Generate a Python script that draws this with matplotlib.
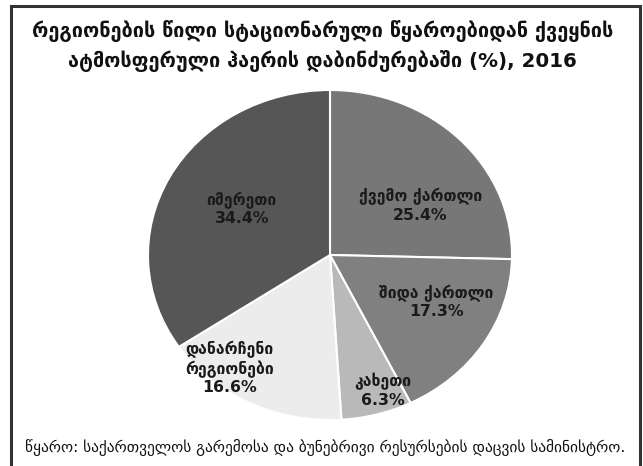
import numpy as np
import matplotlib.pyplot as plt
from matplotlib.patches import Rectangle

regions = ["ქვემო ქართლი", "შიდა ქართლი", "კახეთი", "დანარჩენი\nრეგიონები", "იმერეთი"]
shares = [25.4, 17.3, 6.3, 16.6, 34.4]
title = ("რეგიონების წილი სტაციონარული წყაროებიდან ქვეყნის\n"
         "ატმოსფერული ჰაერის დაბინძურებაში (%), 2016")
source = "წყარო: საქართველოს გარემოსა და ბუნებრივი რესურსების დაცვის სამინისტრო."

colors = ["#777777", "#808080", "#b9b9b9", "#ececec", "#565656"]
# label placement: radius fraction and angle shift from wedge middle
lab_r = [0.58, 0.65, 0.87, 0.88, 0.56]
lab_shift = [-13, 6.5, 4.5, -12.7, -2]

fig = plt.figure(figsize=(6.43, 4.66), dpi=100)
fig.patch.set_facecolor("white")

ax = fig.add_axes([148 / 643, 46 / 466, 364 / 643, 330 / 466])
wedges, _ = ax.pie(shares, colors=colors, startangle=90, counterclock=False,
                   wedgeprops=dict(edgecolor="white", linewidth=1.5))
ax.set_aspect("auto")
ax.set_xlim(-1, 1)
ax.set_ylim(-1, 1)

for w, name, val, r, sh in zip(wedges, regions, shares, lab_r, lab_shift):
    ang = np.deg2rad((w.theta1 + w.theta2) / 2 + sh)
    ax.text(r * np.cos(ang), r * np.sin(ang), f"{name}\n{val}%",
            ha="center", va="center", fontsize=11.3, fontweight="bold",
            color="#1a1a1a", linespacing=1.2)

fig.text(0.502, 1 - 46 / 466, title, ha="center", va="center", fontsize=14.3,
         fontweight="bold", color="#111111", linespacing=1.45)
fig.text(0.506, 1 - 447 / 466, source, ha="center", va="center", fontsize=11.1,
         color="#111111")

fig.add_artist(Rectangle((11 / 643, -0.05), 629 / 643, 1.05 - 6 / 466,
                         transform=fig.transFigure, fill=False,
                         edgecolor="#333333", linewidth=2.2))

fig.savefig("out.png", dpi=100)
